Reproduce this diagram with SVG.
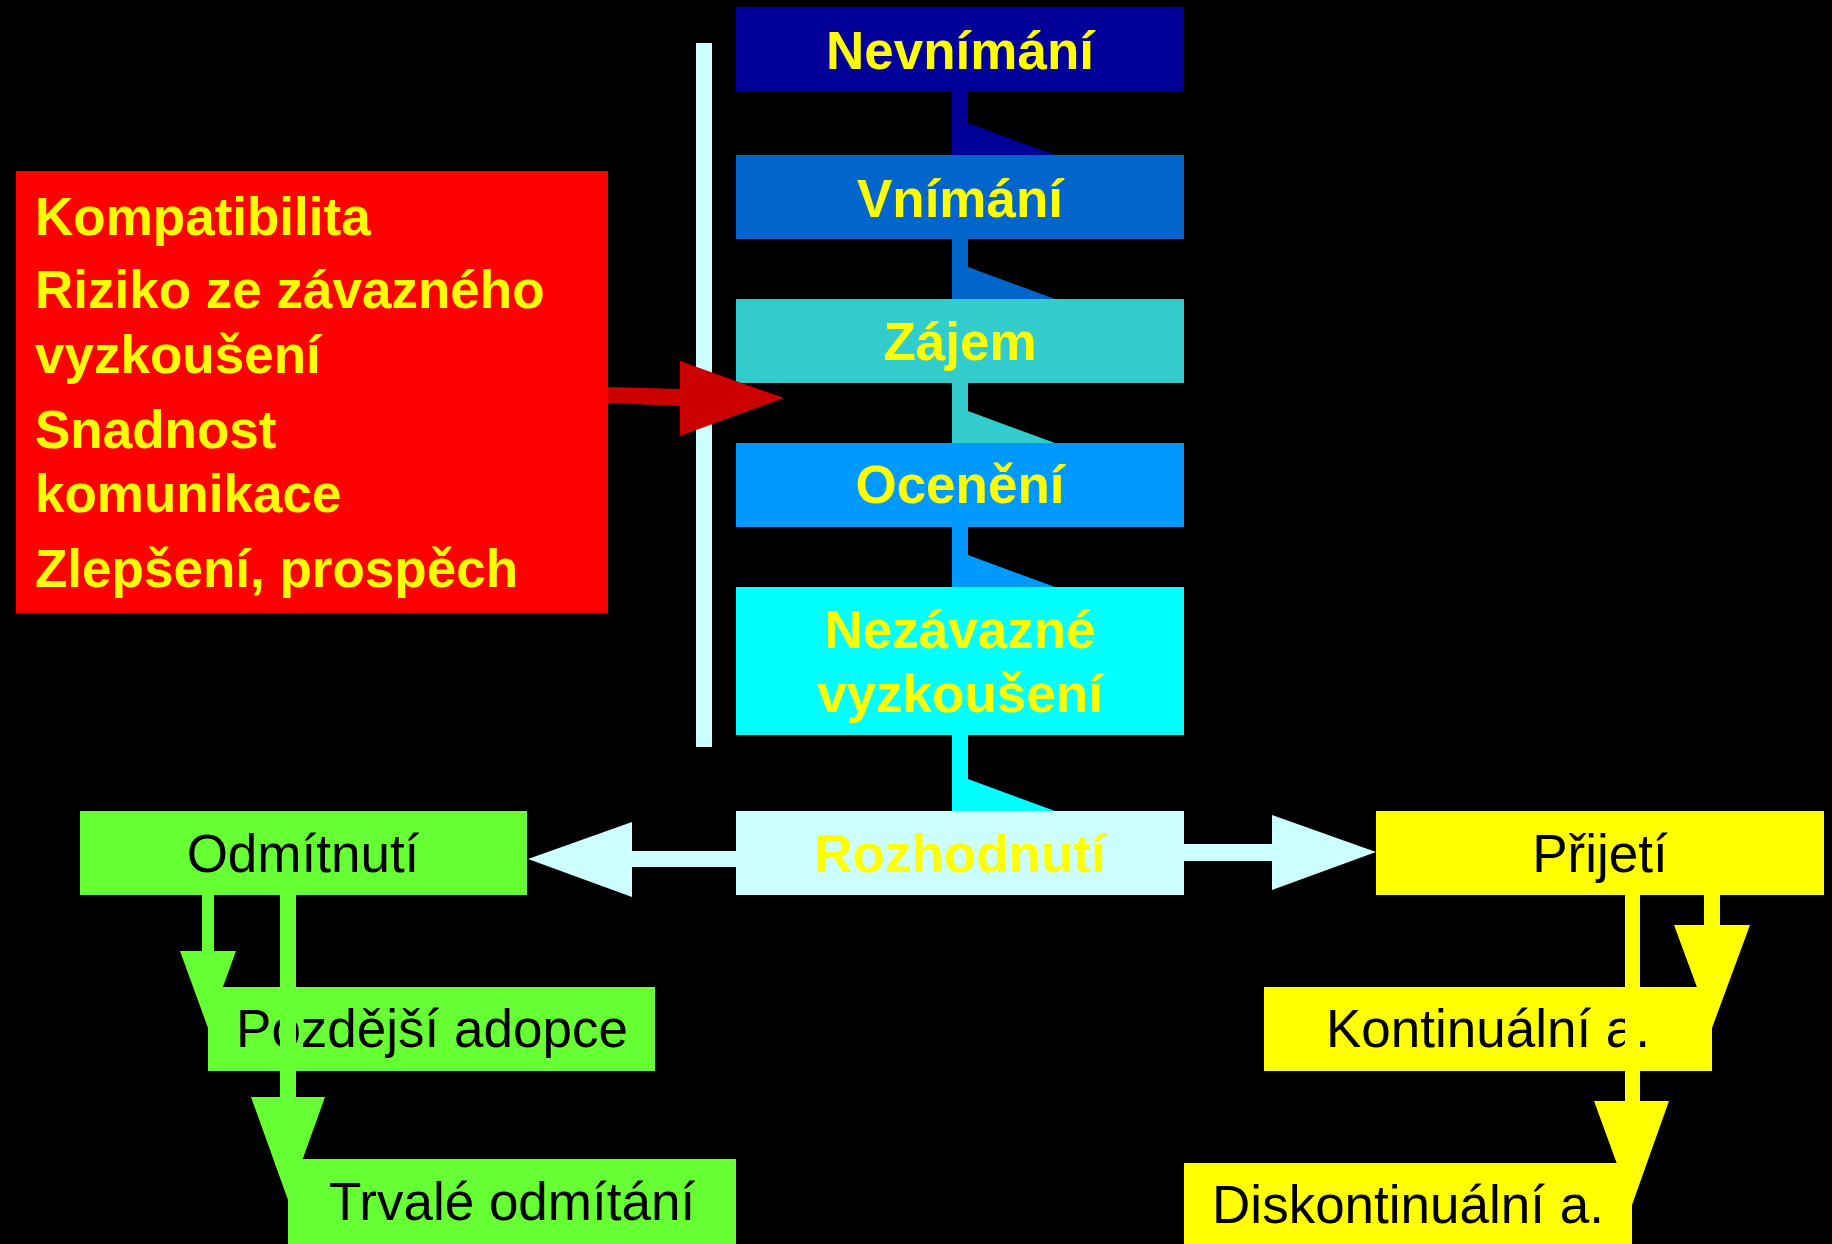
<svg xmlns="http://www.w3.org/2000/svg" width="1832" height="1244" viewBox="0 0 1832 1244">
  <style>
    .stage { font-family: "Liberation Sans", Arial, sans-serif; font-weight: bold; font-size: 53px; fill: #FFFF00; text-anchor: middle; }
    .factor { font-family: "Liberation Sans", Arial, sans-serif; font-weight: bold; font-size: 53px; fill: #FFFF00; }
    .outcome { font-family: "Liberation Sans", Arial, sans-serif; font-size: 53px; fill: #000000; text-anchor: middle; }
    .green { fill: #66FF33; }
    .yellow { fill: #FFFF00; }
    .pale { fill: #CCFFFF; }
  </style>

  <!-- background -->
  <rect x="0" y="0" width="1832" height="1244" fill="#000000"/>

  <!-- vertical bracket bar beside the stages -->
  <rect x="696" y="43" width="16" height="704" class="pale"/>

  <!-- factors box -->
  <g id="factors">
    <rect x="16" y="171" width="592" height="442" fill="#FF0000"/>
    <text class="factor" x="35" y="235">Kompatibilita</text>
    <text class="factor" x="35" y="308">Riziko ze závazného</text>
    <text class="factor" x="35" y="373">vyzkoušení</text>
    <text class="factor" x="35" y="448">Snadnost</text>
    <text class="factor" x="35" y="512">komunikace</text>
    <text class="factor" x="35" y="587">Zlepšení, prospěch</text>
  </g>

  <!-- adoption stages -->
  <g id="nevnimani">
    <rect x="736" y="7" width="448" height="84" fill="#000099"/>
    <text class="stage" x="960" y="69">Nevnímání</text>
  </g>
  <g id="vnimani">
    <rect x="736" y="155" width="448" height="84" fill="#0066CC"/>
    <text class="stage" x="960" y="217">Vnímání</text>
  </g>
  <g id="zajem">
    <rect x="736" y="299" width="448" height="84" fill="#33CCCC"/>
    <text class="stage" x="960" y="360">Zájem</text>
  </g>
  <g id="oceneni">
    <rect x="736" y="443" width="448" height="84" fill="#0099FF"/>
    <text class="stage" x="960" y="503">Ocenění</text>
  </g>
  <g id="nezavazne">
    <rect x="736" y="587" width="448" height="148" fill="#00FFFF"/>
    <text class="stage" x="960" y="648">Nezávazné</text>
    <text class="stage" x="960" y="712">vyzkoušení</text>
  </g>
  <g id="rozhodnuti">
    <rect x="736" y="811" width="448" height="84" class="pale"/>
    <text class="stage" x="960" y="872">Rozhodnutí</text>
  </g>

  <!-- rejection branch -->
  <g id="odmitnuti">
    <rect x="80" y="811" width="447" height="84" class="green"/>
    <text class="outcome" x="303" y="872">Odmítnutí</text>
  </g>
  <g id="pozdejsi">
    <rect x="208" y="987" width="447" height="84" class="green"/>
    <text class="outcome" x="432" y="1047">Pozdější adopce</text>
  </g>
  <g id="trvale">
    <rect x="288" y="1159" width="448" height="85" class="green"/>
    <text class="outcome" x="512" y="1220">Trvalé odmítání</text>
  </g>

  <!-- acceptance branch -->
  <g id="prijeti">
    <rect x="1376" y="811" width="448" height="84" class="yellow"/>
    <text class="outcome" x="1600" y="872">Přijetí</text>
  </g>
  <g id="kontinualni">
    <rect x="1264" y="987" width="448" height="84" class="yellow"/>
    <text class="outcome" x="1488" y="1047">Kontinuální a.</text>
  </g>
  <g id="diskontinualni">
    <rect x="1184" y="1163" width="448" height="84" class="yellow"/>
    <text class="outcome" x="1408" y="1223">Diskontinuální a.</text>
  </g>

  <!-- connectors -->
  <g id="connectors">
    <!-- stage-to-stage links -->
    <polygon points="952,91 968,91 968,123 1055,155 952,155" fill="#000099"/>
    <polygon points="952,239 968,239 968,267 1055,299 952,299" fill="#0066CC"/>
    <polygon points="952,383 968,383 968,411 1055,443 952,443" fill="#33CCCC"/>
    <polygon points="952,527 968,527 968,555 1055,587 952,587" fill="#0099FF"/>
    <polygon points="952,735 968,735 968,779 1055,811 952,811" fill="#00FFFF"/>

    <!-- factors into stages -->
    <polygon points="608,387 680,389 680,361 784,398 680,436 680,406 608,403" fill="#CC0000"/>

    <!-- decision outcomes -->
    <polygon points="736,851 632,851 632,822 528,859 632,897 632,867 736,867" class="pale"/>
    <polygon points="1184,844 1272,844 1272,815 1376,852 1272,890 1272,861 1184,861" class="pale"/>

    <!-- rejection follow-ups -->
    <polygon points="202,895 214,895 214,951 236,951 208,1028 180,951 202,951" class="green"/>
    <polygon points="280,895 296,895 296,1097 325,1097 288,1200 251,1097 280,1097" class="green"/>

    <!-- acceptance follow-ups -->
    <polygon points="1625,895 1640,895 1640,1101 1669,1101 1632,1205 1594,1101 1625,1101" class="yellow"/>
    <polygon points="1704,895 1720,895 1720,925 1750,925 1712,1028 1674,925 1704,925" class="yellow"/>
  </g>
</svg>
